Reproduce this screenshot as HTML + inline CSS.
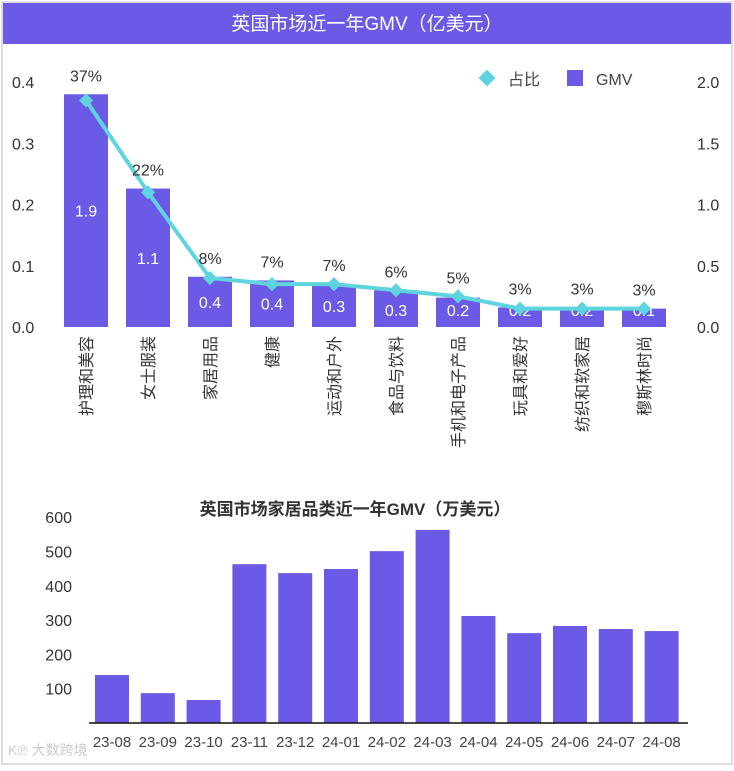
<!DOCTYPE html>
<html><head><meta charset="utf-8">
<style>
html,body{margin:0;padding:0;background:#fff;}
body{width:734px;height:766px;overflow:hidden;font-family:"Liberation Sans","Noto Sans CJK SC",sans-serif;}
svg text{font-family:"Liberation Sans","Noto Sans CJK SC",sans-serif;}
</style></head>
<body>
<svg id="c" width="734" height="766" xmlns="http://www.w3.org/2000/svg">
<rect x="2" y="2" width="730" height="762" fill="#fff" stroke="#ddd" stroke-width="2"/>
<rect x="3" y="3" width="728" height="41" fill="#6a5ae6"/>
<text x="367" y="30" text-anchor="middle" font-size="19" fill="#fff">英国市场近一年GMV（亿美元）</text>
<g id="topg"></g>
<g id="botg"></g>
<text x="355" y="515" text-anchor="middle" font-size="17" font-weight="bold" fill="#333">英国市场家居品类近一年GMV（万美元）</text>
<text x="8" y="755" font-size="14" fill="#ccc">K℗ 大数跨境</text>
<g>
<rect x="481" y="72" width="12" height="12" fill="#5fd4de" transform="rotate(45 487 78)"/>
<text x="508" y="85" font-size="16" fill="#444">占比</text>
<rect x="567" y="70" width="16" height="16" fill="#6a5ae6"/>
<text x="596" y="85" font-size="16" fill="#444">GMV</text>
</g>
</svg>
<script>
const topCategories=["护理和美容","女士服装","家居用品","健康","运动和户外","食品与饮料","手机和电子产品","玩具和爱好","纺织和软家居","穆斯林时尚"];
const gmvValues=[1.9,1.13,0.41,0.38,0.34,0.3,0.24,0.16,0.16,0.15];
const gmvLabels=["1.9","1.1","0.4","0.4","0.3","0.3","0.2","0.2","0.2","0.1"];
const shareValues=[0.37,0.22,0.08,0.07,0.07,0.06,0.05,0.03,0.03,0.03];
const shareLabels=["37%","22%","8%","7%","7%","6%","5%","3%","3%","3%"];
const leftTicks=[0,0.1,0.2,0.3,0.4];
const rightTicks=[0,0.5,1,1.5,2];
const months=["23-08","23-09","23-10","23-11","23-12","24-01","24-02","24-03","24-04","24-05","24-06","24-07","24-08"];
const homeValues=[140,87,67,463,437,449,501,563,312,262,283,274,268];
const bottomTicks=[100,200,300,400,500,600];

const NS="http://www.w3.org/2000/svg";
function mk(tag,attrs,parent,text){const e=document.createElementNS(NS,tag);for(const k in attrs)e.setAttribute(k,attrs[k]);if(text!==undefined)e.textContent=text;parent.appendChild(e);return e;}
const topG=document.getElementById('topg'), botG=document.getElementById('botg');
const yL=v=>327-v*612.5, yR=v=>327-v*122.5, xT=i=>86+i*62;
leftTicks.forEach(t=>{const e=mk('text',{x:12,y:yL(t)+6,'font-size':16,fill:'#333'},topG,t.toFixed(1));

});
rightTicks.forEach(t=>{const e=mk('text',{x:697,y:yR(t)+6,'font-size':16,fill:'#333'},topG,t.toFixed(1));

});
gmvValues.forEach((v,i)=>{const b=mk('rect',{x:xT(i)-22,y:yR(v),width:44,height:327-yR(v),fill:'#6a5ae6'},topG);


const t=mk('text',{x:xT(i),y:(yR(v)+327)/2+6,'text-anchor':'middle','font-size':16,fill:'#fff'},topG,gmvLabels[i]);
if(327-yR(v)<40)t.setAttribute('y',316);


const c=mk('text',{x:0,y:0,'text-anchor':'end','font-size':16,fill:'#333',transform:`translate(${xT(i)+6},336) rotate(-90)`},topG,topCategories[i]);

});
const pts=shareValues.map((v,i)=>[xT(i),yL(v)]);
const ln=mk('polyline',{points:pts.map(p=>p.join(',')).join(' '),fill:'none',stroke:'#5fd4de','stroke-width':4},topG);


pts.forEach((p,i)=>{const m=mk('rect',{x:p[0]-5,y:p[1]-5,width:10,height:10,fill:'#5fd4de',transform:`rotate(45 ${p[0]} ${p[1]})`},topG);


const ly=Math.min(p[1],yR(gmvValues[i]))-13;
const t=mk('text',{x:p[0],y:ly,'text-anchor':'middle','font-size':16,fill:'#333'},topG,shareLabels[i]);

});
const yB=v=>723-v*0.343, xB=i=>112+i*45.8;
bottomTicks.forEach(t=>{const e=mk('text',{x:72,y:yB(t)+6,'text-anchor':'end','font-size':16,fill:'#333'},botG,String(t));

});
homeValues.forEach((v,i)=>{const b=mk('rect',{x:xB(i)-17,y:yB(v),width:34,height:723-yB(v),fill:'#6a5ae6'},botG);


const t=mk('text',{x:xB(i),y:747,'text-anchor':'middle','font-size':15,fill:'#444'},botG,months[i]);

});
const ax=mk('line',{x1:89,y1:723,x2:688,y2:723,stroke:'#111','stroke-width':1.5},botG);


</script>
</body></html>
